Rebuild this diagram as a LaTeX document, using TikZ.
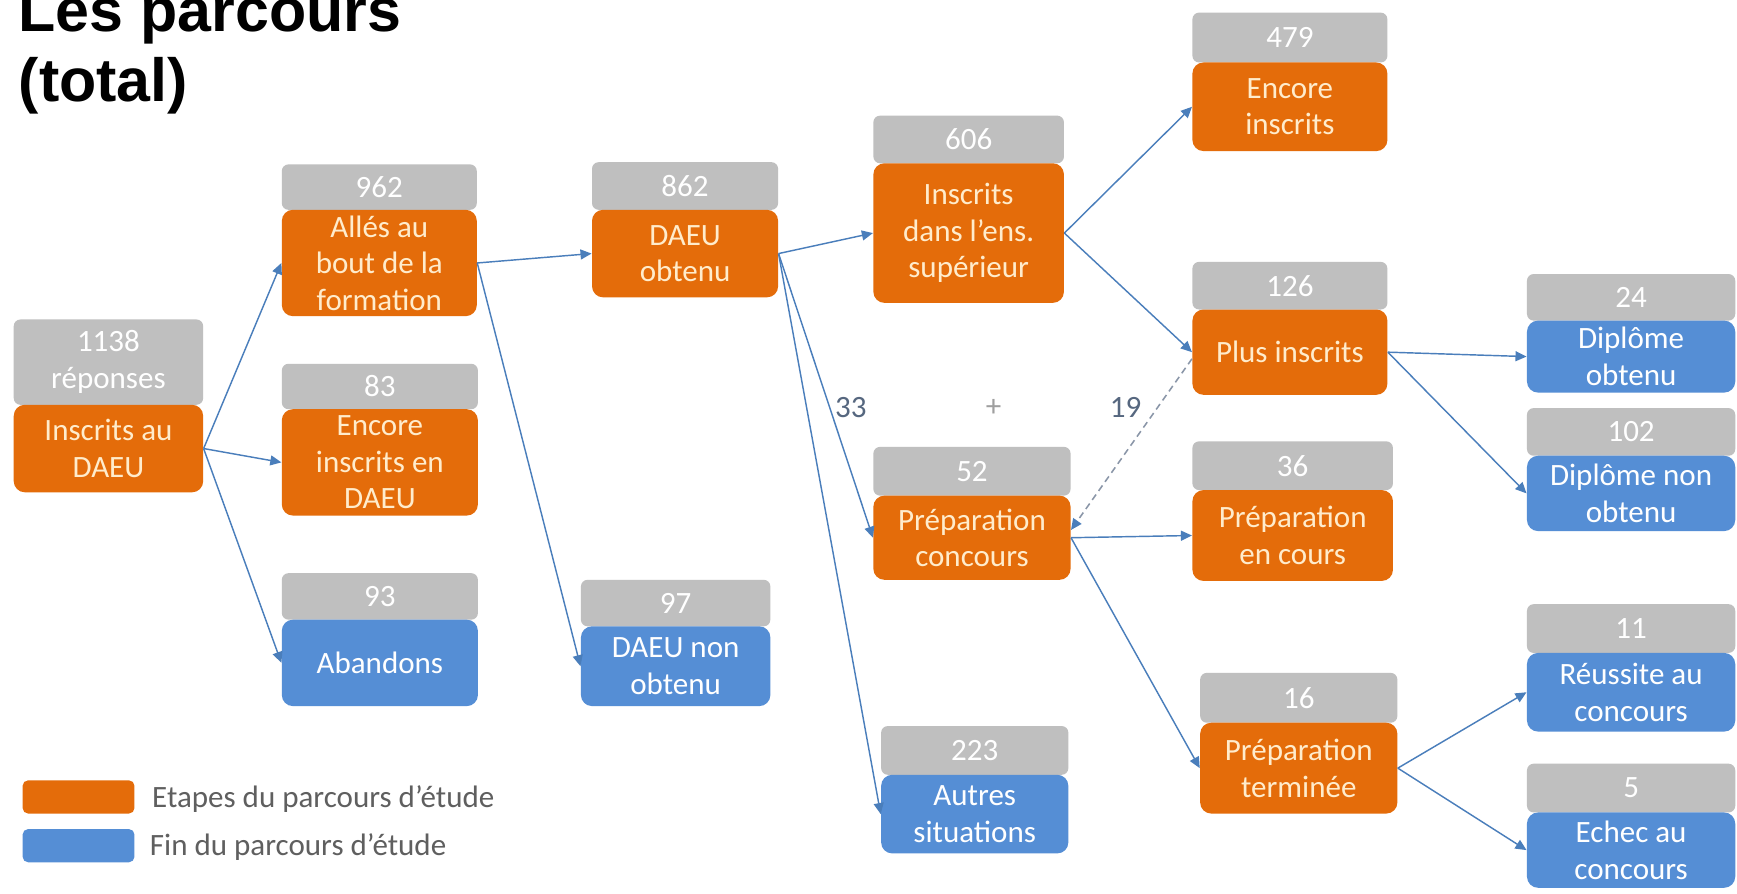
\documentclass[tikz,border=0pt]{standalone}
\usepackage{fontspec}
\setmainfont{Carlito}
\newfontfamily\titlefont{Liberation Sans}
\usetikzlibrary{arrows.meta}
\definecolor{cor}{HTML}{E46C0A}
\definecolor{cbl}{HTML}{558ED5}
\definecolor{cgr}{HTML}{BFBFBF}
\definecolor{carr}{HTML}{4A7EBB}
\definecolor{ctxt}{HTML}{5F5F5F}
\definecolor{clbl}{HTML}{56677F}
\definecolor{cdash}{HTML}{8A96A8}
\definecolor{corx}{RGB}{255,236,204}
\newcommand\mkpair[9]{%
  \pgfmathsetmacro\bw{(#3-#2)*0.5}%
  \pgfmathsetmacro\gh{(#5-#4)*0.5}%
  \pgfmathsetmacro\oh{(#6-#5)*0.5}%
  \node[gbox, anchor=north west, minimum width=\bw pt, minimum height=\gh pt] (#1n) at (#2,#4) {#8};
  \node[#7, anchor=north west, minimum width=\bw pt, minimum height=\oh pt] (#1) at (#2,#5) {#9};
}
\begin{document}
\begin{tikzpicture}[x=0.5pt,y=-0.5pt,
  gbox/.style={fill=cgr, rounded corners=3pt, inner sep=0pt, text=white, align=center, font=\fontsize{14}{16.5}\selectfont},
  cbox/.style={rounded corners=5pt, inner sep=0pt, align=center, font=\fontsize{14}{16.5}\selectfont},
  obox/.style={cbox, fill=cor, text=corx},
  bbox/.style={cbox, fill=cbl, text=white},
  conn/.style={draw=carr, line width=0.65pt, -{Triangle[length=5pt,width=4.5pt]}},
  dconn/.style={draw=cdash, line width=0.7pt, dash pattern=on 3pt off 2pt, -{Triangle[length=5pt,width=4.5pt,color=carr]}},
  lbl/.style={text=clbl, font=\fontsize{14}{16}\selectfont},
  ttl/.style={anchor=base west, inner sep=0pt, font=\titlefont\bfseries\fontsize{27.5}{32}\selectfont},
  legt/.style={anchor=west, inner sep=0pt, text=ctxt, font=\fontsize{14}{16}\selectfont},
  legb/.style={rounded corners=2.5pt, inner sep=0pt, minimum width=50.5pt, minimum height=15pt, anchor=north west}]
\useasboundingbox (0,0) rectangle (1568,807);
\clip (0,0) rectangle (1568,807);
\fill[white] (0,0) rectangle (1568,807);

\node[ttl] (t1) at (16.5,28.6) {Les parcours};
\node[ttl] (t2) at (16.5,92) {(total)};

\mkpair{ins}{12}{183}{288}{365}{444}{obox}{1138\\réponses}{Inscrits au\\DAEU}
\mkpair{alles}{254}{430}{148}{189}{285}{obox}{962}{Allés au\\bout de la\\formation}
\mkpair{encd}{254}{431}{328}{369}{465}{obox}{83}{Encore\\inscrits en\\DAEU}
\mkpair{aban}{254}{431}{517}{559}{637}{bbox}{93}{Abandons}
\mkpair{daeu}{534}{702}{146}{189}{268}{obox}{862}{DAEU\\obtenu}
\mkpair{daeun}{524}{695}{523}{565}{637}{bbox}{97}{DAEU non\\obtenu}
\mkpair{sup}{788}{960}{104}{147}{273}{obox}{606}{Inscrits\\dans l’ens.\\supérieur}
\mkpair{prepc}{788}{966}{403}{447}{523}{obox}{52}{Préparation\\concours}
\mkpair{autres}{795}{964}{655}{699}{770}{bbox}{223}{Autres\\situations}
\mkpair{encore}{1076}{1252}{11}{56}{136}{obox}{479}{Encore\\inscrits}
\mkpair{plus}{1076}{1252}{236}{279}{356}{obox}{126}{Plus inscrits}
\mkpair{prepec}{1076}{1257}{398}{442}{524}{obox}{36}{Préparation\\en cours}
\mkpair{prept}{1083}{1261}{607}{652}{734}{obox}{16}{Préparation\\terminée}
\mkpair{dipo}{1378}{1566}{247}{289}{354}{bbox}{24}{Diplôme\\obtenu}
\mkpair{dipn}{1378}{1566}{368}{411}{479}{bbox}{102}{Diplôme non\\obtenu}
\mkpair{reus}{1378}{1566}{545}{589}{660}{bbox}{11}{Réussite au\\concours}
\mkpair{echec}{1378}{1566}{689}{733}{801}{bbox}{5}{Echec au\\concours}

\draw[conn] (ins.east) -- (alles.west);
\draw[conn] (ins.east) -- (encd.west);
\draw[conn] (ins.east) -- (aban.west);
\draw[conn] (alles.east) -- (daeu.west);
\draw[conn] (alles.east) -- (daeun.west);
\draw[conn] (daeu.east) -- (sup.west);
\draw[conn] (daeu.east) -- (prepc.west);
\draw[conn] (daeu.east) -- (autres.west);
\draw[conn] (sup.east) -- (encore.west);
\draw[conn] (sup.east) -- (plus.west);
\draw[dconn] ([yshift=-3pt]plus.west) -- ([yshift=3.5pt]prepc.east);
\draw[conn] (prepc.east) -- (prepec.west);
\draw[conn] (prepc.east) -- (prept.west);
\draw[conn] (plus.east) -- (dipo.west);
\draw[conn] (plus.east) -- (dipn.west);
\draw[conn] (prept.east) -- (reus.west);
\draw[conn] (prept.east) -- (echec.west);

\node[lbl] (l33) at (768,368) {33};
\node[lbl, text=ctxt!60] (lplus) at (897,368) {+};
\node[lbl] (l19) at (1016,368) {19};

\node[legb, fill=cor] (lego) at (20,704) {};
\node[legt] (legot) at (137,721) {Etapes du parcours d’étude};
\node[legb, fill=cbl] (legb1) at (20,748) {};
\node[legt] (legbt) at (135,765) {Fin du parcours d’étude};
\end{tikzpicture}
\end{document}
